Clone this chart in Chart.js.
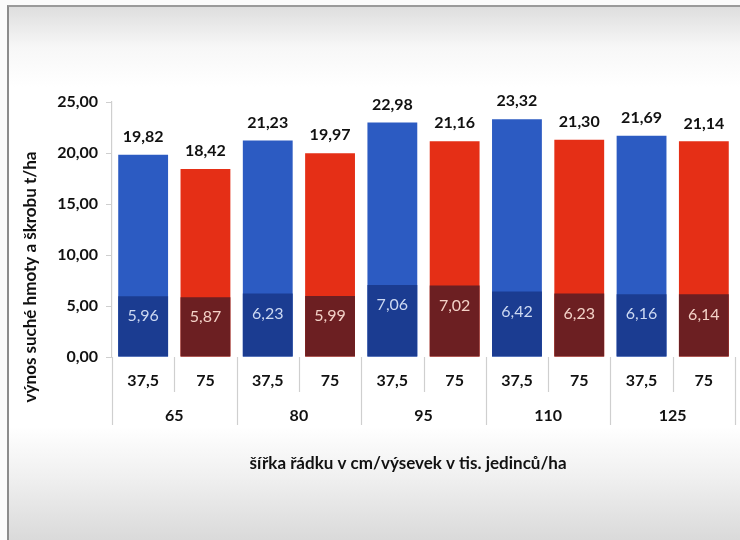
<!DOCTYPE html>
<html>
<head>
<meta charset="utf-8">
<script src="https://cdn.jsdelivr.net/npm/chart.js@4"></script>
<style>
  html, body { margin: 0; padding: 0; background: #fbfbfb; }
  #frame {
    position: absolute; left: 7px; top: 5px; width: 733px; height: 535px;
    box-sizing: border-box;
    border-left: 2px solid #8c8c8c; border-top: 2px solid #9a9a9a;
    background: linear-gradient(to bottom, #dedede 0px, #f7f7f7 40px, #ffffff 80px, #ffffff 420px, #f0f0f0 470px, #d9d9d9 535px);
  }
  #wrap { position: absolute; left: 0; top: 0; width: 740px; height: 540px; }
</style>
</head>
<body>
<div id="frame"></div>
<div id="wrap"><canvas id="yieldChart" width="740" height="540"></canvas></div>
<script>
// row width (cm) per bar, and seeding rate groups (thousand plants/ha)
const rowWidths = ['37,5', '75', '37,5', '75', '37,5', '75', '37,5', '75', '37,5', '75'];
const seedGroups = ['65', '80', '95', '110', '125'];

// dry matter yield and starch yield, t/ha
const dryMatter = [19.82, 18.42, 21.23, 19.97, 22.98, 21.16, 23.32, 21.30, 21.69, 21.14];
const starch = [5.96, 5.87, 6.23, 5.99, 7.06, 7.02, 6.42, 6.23, 6.16, 6.14];

const yTicks = [0, 5, 10, 15, 20, 25];

const FONT = 'Lato, "Open Sans", sans-serif';
const fmt = v => v.toFixed(2).replace('.', ',');

const lightColors = rowWidths.map((w, i) => i % 2 === 0 ? '#2c5bc2' : '#e52f16');
const darkColors = rowWidths.map((w, i) => i % 2 === 0 ? '#1b3c91' : '#6c1f22');
const innerLabelColors = rowWidths.map((w, i) => i % 2 === 0 ? '#cdd9f2' : '#f3d2c8');

// value labels, group row, separators, axis titles
const extras = {
  id: 'extras',
  afterDatasetsDraw(chart) {
    const ctx = chart.ctx;
    const x = chart.scales.x;
    const area = chart.chartArea;
    ctx.save();
    ctx.textAlign = 'center';
    ctx.textBaseline = 'middle';

    const top = chart.getDatasetMeta(0).data;
    ctx.font = 'bold 16px ' + FONT;
    ctx.fillStyle = '#111';
    top.forEach((bar, i) => ctx.fillText(fmt(dryMatter[i]), bar.x, bar.y - 18));

    const low = chart.getDatasetMeta(1).data;
    ctx.font = '16px ' + FONT;
    low.forEach((bar, i) => {
      ctx.fillStyle = innerLabelColors[i];
      ctx.fillText(fmt(starch[i]), bar.x, bar.y + 20);
    });

    // category separators
    const step = (area.right - area.left) / rowWidths.length;
    ctx.strokeStyle = '#cfcfcf';
    ctx.lineWidth = 1.2;
    for (let i = 0; i <= rowWidths.length; i++) {
      const px = Math.round(area.left + i * step) + 0.5;
      const end = i % 2 === 0 ? area.bottom + 68 : area.bottom + 35;
      ctx.beginPath();
      ctx.moveTo(px, area.bottom);
      ctx.lineTo(px, end);
      ctx.stroke();
    }

    // seeding rate group labels
    ctx.font = 'bold 16px ' + FONT;
    ctx.fillStyle = '#111';
    seedGroups.forEach((g, j) => {
      const cx = (x.getPixelForValue(j * 2) + x.getPixelForValue(j * 2 + 1)) / 2;
      ctx.fillText(g, cx, area.bottom + 59);
    });

    // axis titles
    ctx.font = 'bold 17px ' + FONT;
    ctx.fillText('šířka řádku v cm/výsevek v tis. jedinců/ha', 408, 464);
    ctx.translate(31, 277);
    ctx.rotate(-Math.PI / 2);
    ctx.fillText('výnos suché hmoty a škrobu t/ha', 0, 0);
    ctx.restore();
  }
};

new Chart(document.getElementById('yieldChart'), {
  type: 'bar',
  data: {
    labels: rowWidths,
    datasets: [
      {
        label: 'výnos suché hmoty',
        data: dryMatter,
        backgroundColor: lightColors,
        grouped: false,
        order: 2,
        barPercentage: 0.8,
        categoryPercentage: 1
      },
      {
        label: 'výnos škrobu',
        data: starch,
        backgroundColor: darkColors,
        grouped: false,
        order: 1,
        barPercentage: 0.8,
        categoryPercentage: 1
      }
    ]
  },
  options: {
    responsive: false,
    animation: false,
    layout: { padding: { left: 18, top: 102, right: 5, bottom: 113 } },
    plugins: { legend: { display: false }, tooltip: { enabled: false } },
    scales: {
      x: {
        offset: true,
        grid: { display: false },
        border: { display: false },
        ticks: { color: '#111', font: { family: FONT, size: 16, weight: 'bold' }, padding: 6 },
        afterFit: s => { s.height = 70; }
      },
      y: {
        min: 0,
        max: 25,
        afterBuildTicks: s => { s.ticks = yTicks.map(v => ({ value: v })); },
        grid: { drawOnChartArea: false, tickLength: 6, color: '#cfcfcf' },
        border: { color: '#cfcfcf', width: 1.2 },
        ticks: {
          color: '#111',
          font: { family: FONT, size: 16, weight: 'bold' },
          padding: 8,
          callback: v => fmt(v)
        },
        afterFit: s => { s.width = 94; }
      }
    }
  },
  plugins: [extras]
});
</script>
</body>
</html>
